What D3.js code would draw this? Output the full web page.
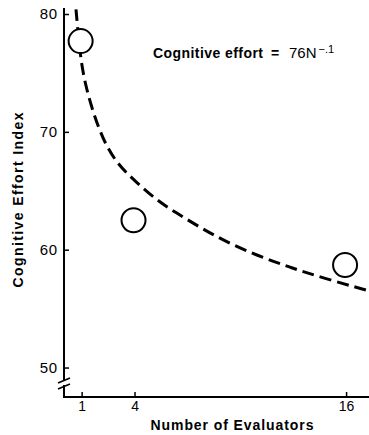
<!DOCTYPE html>
<html>
<head>
<meta charset="utf-8">
<script src="https://cdn.jsdelivr.net/npm/d3@7"></script>
<style>
  body { margin: 0; background: #fff; }
  svg { display: block; font-family: "Liberation Sans", Arial, sans-serif; }
</style>
</head>
<body>
<svg width="369" height="435"></svg>
<script>
const svg = d3.select("svg");

// Observed points (number of evaluators, cognitive effort index)
const evaluators = [1, 4, 16];
const effort = [77.7, 62.5, 58.7];

// Fitted curve (76N^-.1)
const curveN = [0.68, 0.91, 1.19, 1.66, 2.23, 2.99, 4.12, 5.26, 6.39, 7.71, 9.02, 10.95, 12.82, 14.69, 17.3];
const curveEffort = [80.4, 76.5, 74.1, 71.6, 69.3, 67.3, 65.7, 64.2, 63.1, 61.9, 60.8, 59.5, 58.5, 57.6, 56.5];

const xTicks = [1, 4, 16];
const yTicks = [50, 60, 70, 80];

const x = d3.scaleLinear().domain([0, 17.3]).range([64, 369]);
const y = d3.scaleLinear().domain([47.5, 80]).range([397, 14]);

// Y axis
svg.append("line")
    .attr("x1", 64).attr("x2", 64)
    .attr("y1", 8).attr("y2", 397)
    .attr("stroke", "#000").attr("stroke-width", 2);

const yAxis = svg.append("g")
    .attr("transform", "translate(64,0)")
    .call(d3.axisLeft(y).tickValues(yTicks).tickSize(-5).tickPadding(6));
yAxis.select(".domain").remove();
yAxis.selectAll("line").attr("stroke-width", 1.5);
yAxis.selectAll("text")
    .attr("font-family", "Liberation Sans, Arial, sans-serif")
    .attr("font-size", 15)
    .attr("letter-spacing", 0.8);

// axis break
svg.append("rect").attr("x", 60).attr("y", 380).attr("width", 8).attr("height", 5).attr("fill", "#fff");
[380, 386].forEach(yy => {
    svg.append("line")
        .attr("x1", 58).attr("y1", yy + 3)
        .attr("x2", 70).attr("y2", yy - 2)
        .attr("stroke", "#000").attr("stroke-width", 1.6);
});

// X axis
svg.append("line")
    .attr("x1", 63).attr("x2", 369)
    .attr("y1", 397).attr("y2", 397)
    .attr("stroke", "#000").attr("stroke-width", 2);

const xAxis = svg.append("g")
    .attr("transform", "translate(0,397)")
    .call(d3.axisBottom(x).tickValues(xTicks).tickSize(-5).tickPadding(4));
xAxis.select(".domain").remove();
xAxis.selectAll("line").attr("stroke-width", 1.5);
xAxis.selectAll("text")
    .attr("font-family", "Liberation Sans, Arial, sans-serif")
    .attr("font-size", 14);

// Axis titles
svg.append("text")
    .attr("x", 232).attr("y", 430)
    .attr("text-anchor", "middle")
    .attr("font-size", 14)
    .attr("font-weight", "bold")
    .attr("textLength", 163)
    .text("Number of Evaluators");

svg.append("text")
    .attr("transform", "translate(23,200) rotate(-90)")
    .attr("text-anchor", "middle")
    .attr("font-size", 14)
    .attr("font-weight", "bold")
    .attr("textLength", 175)
    .text("Cognitive Effort Index");

// Fitted curve
const line = d3.line()
    .x(d => x(d[0]))
    .y(d => y(d[1]))
    .curve(d3.curveBasis);

svg.append("path")
    .datum(d3.zip(curveN, curveEffort))
    .attr("d", line)
    .attr("fill", "none")
    .attr("stroke", "#000")
    .attr("stroke-width", 3)
    .attr("stroke-dasharray", "12,6");

// Data circles
svg.selectAll(".pt")
    .data(d3.zip(evaluators, effort))
    .enter().append("circle")
    .attr("class", "pt")
    .attr("cx", d => x(d[0]) - 1)
    .attr("cy", d => y(d[1]))
    .attr("r", 12)
    .attr("fill", "#fff")
    .attr("stroke", "#000")
    .attr("stroke-width", 2);

// Equation label
const eq = svg.append("g");
eq.append("text")
    .attr("x", 153).attr("y", 58)
    .attr("font-family", "Liberation Sans Narrow, Arial Narrow, sans-serif")
    .attr("font-weight", "bold")
    .attr("font-size", 14)
    .attr("textLength", 110)
    .text("Cognitive effort");
eq.append("text")
    .attr("x", 271).attr("y", 58)
    .attr("font-size", 14)
    .attr("font-weight", "bold")
    .text("=");
const n = eq.append("text")
    .attr("x", 289).attr("y", 58)
    .attr("font-size", 15)
    .text("76N");
n.append("tspan")
    .attr("dy", -5)
    .attr("dx", 2)
    .attr("font-size", 11)
    .text("−.1");
</script>
</body>
</html>
